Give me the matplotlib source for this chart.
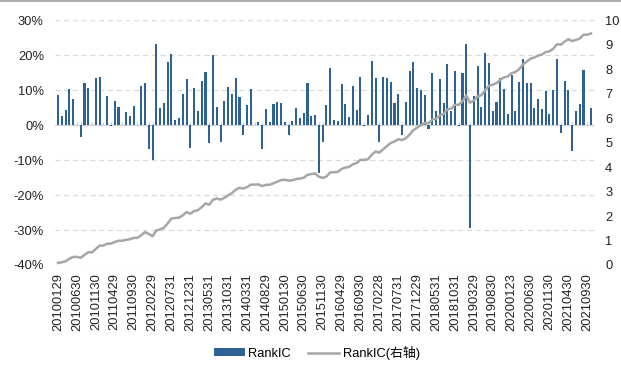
import matplotlib
matplotlib.use("Agg")
import matplotlib.pyplot as plt
from matplotlib.ticker import FuncFormatter, MultipleLocator
from matplotlib.lines import Line2D
import numpy as np

plt.rcParams['font.family'] = ['Liberation Sans', 'Noto Sans CJK SC', 'DejaVu Sans']

# monthly RankIC (%) 2010-01 .. 2021-10
rank_ic = [8.5, 2.5, 4.2, 10.2, 7.5, 0, -3.5, 12, 10.5, 0,
           13.4, 13.8, 0, 8.3, -0.3, 6.8, 5.2, 0, 3.6, 2.5,
           5.4, 0, 11.2, 12.1, -6.7, -10, 23.3, 5, 6.4, 17.9,
           20.3, 1.4, 2.1, 9, 13.3, -6.5, 10.6, 3.9, 12.5, 15.1,
           -5, 20.1, 5.2, -4.8, 6.9, 11, 9, 13.4, 8, -2.9,
           5.6, 10.2, 0, 1, -6.7, 4.5, 0.8, 5.9, 6.7, 6.4,
           1, -2.9, 1.2, 4.8, 2.1, 3.5, 11.9, 2.6, 3, -13.6,
           -4.7, 5.6, 16.4, 1.4, 1.1, 11.7, 6.1, 2.2, 11.3, 4.4,
           13.6, -0.3, 2.8, 18.2, 13.4, -4.8, 13.6, 13.4, 12.3, 6.2,
           8.9, -2.7, 6.7, 15.4, 17.9, 10.7, 10, 8.7, -1, 14.8,
           4, 13.3, 6.2, 17.6, 4, 15.5, -0.3, 15, 23.3, -29.3,
           8.3, 17, 5.2, 20.7, 17.8, 4.1, 6.7, 13.5, 10.2, 3.1,
           14.2, 4.1, 12.2, 18.8, 11.9, 11.9, 4.8, 7.5, 4.5, 9.8,
           3.3, 10, 19, -2.2, 12.6, 10, -7.3, 4.1, 5.9, 15.7,
           0, 5]

tick_labels = ['20100129', '20100630', '20101130', '20110429', '20110930',
               '20120229', '20120731', '20121231', '20130531', '20131031',
               '20140331', '20140829', '20150130', '20150630', '20151130',
               '20160429', '20160930', '20170228', '20170731', '20171229',
               '20180531', '20181031', '20190329', '20190830', '20200123',
               '20200630', '20201130', '20210430', '20210930']

ic = np.array(rank_ic) / 100.0
cum_ic = np.cumsum(ic)  # right axis: cumulative RankIC
x = np.arange(len(ic))

fig = plt.figure(figsize=(6.21, 3.66), dpi=100)
ax = fig.add_axes([0.0886, 0.276, 0.868, 0.669])
ax2 = ax.twinx()

grid_c = '#d9d9d9'
for v in np.arange(-0.4, 0.31, 0.1):
    ax.axhline(v, color=grid_c, lw=0.9, ls=(0, (4, 3)), zorder=0)
ax.axhline(0, color='#d0d0d0', lw=0.8, zorder=1)

bars = ax.bar(x, ic, width=0.55, color='#2f6294', zorder=2, label='RankIC')
line, = ax2.plot(x, cum_ic, color='#a6a6a6', lw=1.8, label='RankIC(右轴)')

ax.set_xlim(-0.8, len(ic) - 0.2)
ax.set_ylim(-0.4, 0.3)
ax2.set_ylim(0, 10)
ax.yaxis.set_major_locator(MultipleLocator(0.1))
ax.yaxis.set_major_formatter(FuncFormatter(lambda v, p: '%d%%' % round(v * 100)))
ax2.yaxis.set_major_locator(MultipleLocator(1))

ax.set_xticks(np.arange(0, len(ic), 5))
ax.set_xticklabels(tick_labels, rotation=90, fontsize=9.3, color='#222222')
ax.tick_params(axis='x', length=0, pad=6)
ax.tick_params(axis='y', length=0, labelsize=9.3, pad=8, labelcolor='#222222')
ax2.tick_params(axis='y', length=0, labelsize=9.3, pad=8, labelcolor='#222222')

# small ticks on the zero line
sec = ax.secondary_xaxis(4 / 7)
sec.set_xticks(x)
sec.tick_params(length=2.5, color='#cccccc', labelbottom=False, labeltop=False)
sec.spines['bottom'].set_visible(False)

for a in (ax, ax2):
    for s in a.spines.values():
        s.set_visible(False)
sec.spines['top'].set_visible(False)

fig.legend([bars, line], ['RankIC', 'RankIC(右轴)'], loc='center',
           bbox_to_anchor=(0.51, 0.036), ncol=2, frameon=False,
           fontsize=9.3, handlelength=2.4, handleheight=0.6,
           columnspacing=1.3, handletextpad=0.3)

fig.add_artist(Line2D([0, 1], [0.997, 0.997], color='#a0a0a0', lw=1.2))

fig.savefig('out.png', dpi=100)
